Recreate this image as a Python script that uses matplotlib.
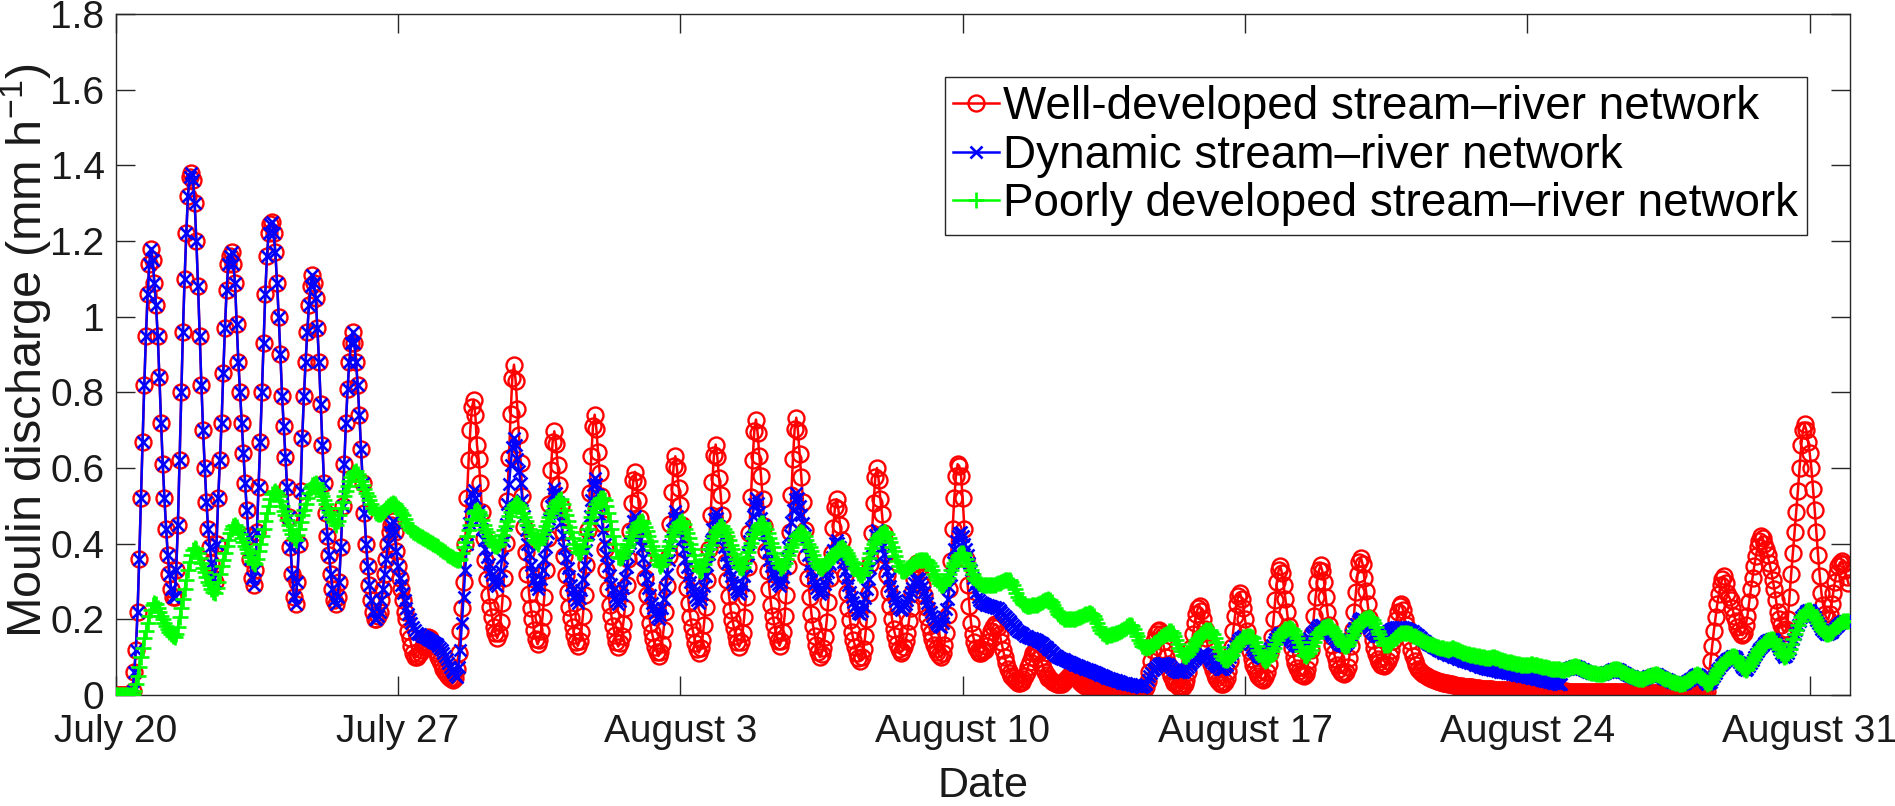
import numpy as np
import matplotlib
matplotlib.use("Agg")
import matplotlib.pyplot as plt

plt.rcParams['font.family'] = ['Liberation Sans', 'DejaVu Sans']
plt.rcParams['mathtext.fontset'] = 'custom'
plt.rcParams['mathtext.rm'] = 'Liberation Sans'
plt.rcParams['mathtext.it'] = 'Liberation Sans:italic'

# ---- axis labels / ticks ----
date_labels = ['July 20', 'July 27', 'August 3', 'August 10', 'August 17', 'August 24', 'August 31']
date_days = [0, 7, 14, 21, 28, 35, 42]
y_ticks = [0, 0.2, 0.4, 0.6, 0.8, 1.0, 1.2, 1.4, 1.6, 1.8]
y_tick_labels = ['0', '0.2', '0.4', '0.6', '0.8', '1', '1.2', '1.4', '1.6', '1.8']
series_names = ['Well-developed stream\u2013river network',
                'Dynamic stream\u2013river network',
                'Poorly developed stream\u2013river network']

# ---- data: hourly values (00h ... 23h), one row per day, starting July 20 ----
well_developed = [
    0, 0, 0, 0, 0, 0, 0, 0, 0, 0, 0.01, 0.06, 0.12, 0.22, 0.36, 0.52, 0.67, 0.82, 0.95, 1.06, 1.14, 1.18, 1.15, 1.09,
    1.03, 0.95, 0.84, 0.72, 0.61, 0.52, 0.44, 0.37, 0.32, 0.28, 0.26, 0.26, 0.33, 0.45, 0.62, 0.8, 0.96, 1.1, 1.22, 1.32, 1.37, 1.38, 1.36, 1.3,
    1.2, 1.08, 0.95, 0.82, 0.7, 0.6, 0.51, 0.44, 0.39, 0.35, 0.31, 0.3, 0.4, 0.52, 0.62, 0.72, 0.85, 0.97, 1.07, 1.14, 1.16, 1.17, 1.14, 1.09,
    0.98, 0.88, 0.8, 0.72, 0.64, 0.56, 0.49, 0.42, 0.36, 0.31, 0.29, 0.33, 0.43, 0.55, 0.67, 0.8, 0.93, 1.06, 1.16, 1.22, 1.245, 1.25, 1.22, 1.17,
    1.09, 1.0, 0.9, 0.79, 0.71, 0.63, 0.55, 0.47, 0.39, 0.32, 0.26, 0.24, 0.3, 0.4, 0.54, 0.68, 0.79, 0.88, 0.96, 1.03, 1.08, 1.11, 1.09, 1.05,
    0.97, 0.88, 0.77, 0.66, 0.56, 0.48, 0.42, 0.37, 0.32, 0.28, 0.25, 0.24, 0.26, 0.3, 0.39, 0.5, 0.61, 0.72, 0.81, 0.88, 0.93, 0.96, 0.93, 0.88,
    0.82, 0.74, 0.65, 0.56, 0.48, 0.4, 0.34, 0.29, 0.25, 0.22, 0.2, 0.2, 0.21, 0.22, 0.25, 0.28, 0.32, 0.36, 0.4, 0.43, 0.45, 0.46, 0.43, 0.38,
    0.34, 0.31, 0.28, 0.25, 0.22, 0.2, 0.17, 0.15, 0.13, 0.11, 0.1, 0.1, 0.105, 0.11, 0.12, 0.13, 0.14, 0.15, 0.152, 0.15, 0.14, 0.13, 0.12, 0.11,
    0.1, 0.09, 0.08, 0.07, 0.062, 0.055, 0.05, 0.045, 0.042, 0.04, 0.045, 0.07, 0.11, 0.17, 0.23, 0.3, 0.4, 0.52, 0.62, 0.7, 0.76, 0.78, 0.74, 0.66,
    0.623, 0.56, 0.484, 0.415, 0.358, 0.307, 0.263, 0.232, 0.207, 0.18, 0.163, 0.15, 0.164, 0.193, 0.244, 0.309, 0.403, 0.512, 0.627, 0.743, 0.837, 0.873, 0.83, 0.757,
    0.688, 0.614, 0.526, 0.444, 0.378, 0.319, 0.267, 0.23, 0.201, 0.171, 0.149, 0.134, 0.145, 0.168, 0.207, 0.258, 0.331, 0.416, 0.506, 0.596, 0.669, 0.697, 0.663, 0.607,
    0.555, 0.499, 0.43, 0.368, 0.317, 0.272, 0.232, 0.204, 0.181, 0.158, 0.141, 0.13, 0.142, 0.167, 0.209, 0.264, 0.344, 0.436, 0.533, 0.631, 0.71, 0.741, 0.704, 0.643,
    0.588, 0.526, 0.453, 0.385, 0.33, 0.281, 0.238, 0.208, 0.183, 0.159, 0.14, 0.128, 0.137, 0.156, 0.188, 0.23, 0.29, 0.359, 0.433, 0.507, 0.567, 0.59, 0.562, 0.516,
    0.468, 0.42, 0.361, 0.308, 0.264, 0.225, 0.191, 0.166, 0.147, 0.127, 0.113, 0.103, 0.114, 0.135, 0.172, 0.219, 0.288, 0.367, 0.451, 0.536, 0.605, 0.631, 0.599, 0.547,
    0.501, 0.449, 0.387, 0.33, 0.283, 0.242, 0.205, 0.179, 0.159, 0.138, 0.122, 0.112, 0.123, 0.145, 0.184, 0.233, 0.305, 0.387, 0.475, 0.563, 0.635, 0.662, 0.629, 0.574,
    0.529, 0.475, 0.411, 0.352, 0.304, 0.262, 0.224, 0.197, 0.176, 0.155, 0.139, 0.128, 0.14, 0.164, 0.206, 0.26, 0.338, 0.428, 0.524, 0.62, 0.698, 0.728, 0.692, 0.632,
    0.579, 0.519, 0.447, 0.381, 0.327, 0.28, 0.238, 0.208, 0.184, 0.16, 0.142, 0.13, 0.142, 0.166, 0.208, 0.263, 0.341, 0.432, 0.528, 0.624, 0.703, 0.733, 0.697, 0.637,
    0.575, 0.511, 0.435, 0.366, 0.309, 0.258, 0.214, 0.182, 0.157, 0.132, 0.113, 0.1, 0.108, 0.125, 0.154, 0.192, 0.246, 0.309, 0.375, 0.442, 0.496, 0.517, 0.492, 0.45,
    0.41, 0.368, 0.316, 0.269, 0.231, 0.197, 0.167, 0.146, 0.128, 0.111, 0.099, 0.09, 0.1, 0.121, 0.156, 0.202, 0.269, 0.345, 0.427, 0.508, 0.575, 0.6, 0.569, 0.518,
    0.478, 0.429, 0.371, 0.317, 0.273, 0.234, 0.2, 0.175, 0.156, 0.136, 0.122, 0.112, 0.117, 0.126, 0.143, 0.164, 0.195, 0.231, 0.269, 0.307, 0.338, 0.35, 0.336, 0.312,
    0.29, 0.263, 0.232, 0.205, 0.182, 0.163, 0.147, 0.133, 0.122, 0.113, 0.105, 0.1, 0.11, 0.131, 0.165, 0.212, 0.28, 0.355, 0.44, 0.52, 0.58, 0.61, 0.605, 0.58,
    0.52, 0.44, 0.36, 0.29, 0.235, 0.19, 0.16, 0.14, 0.125, 0.115, 0.112, 0.112, 0.115, 0.12, 0.13, 0.14, 0.155, 0.17, 0.18, 0.187, 0.186, 0.18, 0.162, 0.14,
    0.12, 0.1, 0.084, 0.07, 0.059, 0.05, 0.044, 0.04, 0.036, 0.033, 0.033, 0.035, 0.041, 0.05, 0.062, 0.075, 0.088, 0.1, 0.11, 0.116, 0.115, 0.11, 0.098, 0.085,
    0.072, 0.06, 0.052, 0.045, 0.041, 0.037, 0.034, 0.032, 0.03, 0.028, 0.028, 0.03, 0.035, 0.04, 0.045, 0.05, 0.053, 0.055, 0.053, 0.05, 0.045, 0.04, 0.035, 0.03,
    0.027, 0.024, 0.022, 0.02, 0.018, 0.017, 0.016, 0.015, 0.014, 0.013, 0.012, 0.012, 0.011, 0.011, 0.01, 0.01, 0.009, 0.009, 0.008, 0.008, 0.008, 0.008, 0.007, 0.007,
    0.006, 0.006, 0.005, 0.005, 0.005, 0.005, 0.004, 0.004, 0.004, 0.004, 0.005, 0.006, 0.011, 0.02, 0.037, 0.06, 0.09, 0.12, 0.143, 0.16, 0.17, 0.173, 0.16, 0.14,
    0.12, 0.1, 0.081, 0.065, 0.051, 0.04, 0.033, 0.028, 0.024, 0.022, 0.021, 0.022, 0.028, 0.04, 0.062, 0.09, 0.125, 0.16, 0.19, 0.215, 0.23, 0.235, 0.222, 0.2,
    0.175, 0.15, 0.124, 0.1, 0.081, 0.065, 0.054, 0.045, 0.038, 0.033, 0.03, 0.03, 0.035, 0.045, 0.064, 0.09, 0.128, 0.17, 0.208, 0.24, 0.262, 0.27, 0.255, 0.23,
    0.2, 0.17, 0.14, 0.115, 0.096, 0.08, 0.068, 0.058, 0.05, 0.045, 0.041, 0.04, 0.047, 0.06, 0.081, 0.11, 0.152, 0.2, 0.252, 0.3, 0.33, 0.34, 0.322, 0.29,
    0.255, 0.22, 0.183, 0.15, 0.123, 0.1, 0.085, 0.072, 0.063, 0.056, 0.052, 0.05, 0.056, 0.07, 0.092, 0.12, 0.162, 0.21, 0.258, 0.3, 0.33, 0.343, 0.328, 0.3,
    0.26, 0.22, 0.186, 0.155, 0.131, 0.11, 0.094, 0.08, 0.07, 0.062, 0.058, 0.056, 0.062, 0.075, 0.098, 0.13, 0.172, 0.22, 0.272, 0.32, 0.352, 0.363, 0.345, 0.31,
    0.275, 0.24, 0.203, 0.17, 0.145, 0.125, 0.108, 0.095, 0.086, 0.08, 0.078, 0.077, 0.081, 0.09, 0.103, 0.12, 0.143, 0.17, 0.197, 0.22, 0.235, 0.24, 0.225, 0.2,
    0.185, 0.17, 0.143, 0.12, 0.104, 0.09, 0.079, 0.07, 0.064, 0.06, 0.056, 0.052, 0.049, 0.047, 0.045, 0.043, 0.041, 0.04, 0.038, 0.037, 0.035, 0.034, 0.033, 0.032,
    0.031, 0.03, 0.029, 0.028, 0.027, 0.026, 0.025, 0.025, 0.024, 0.023, 0.022, 0.022, 0.021, 0.021, 0.02, 0.02, 0.019, 0.019, 0.018, 0.018, 0.017, 0.017, 0.016, 0.016,
    0.015, 0.015, 0.015, 0.015, 0.014, 0.014, 0.014, 0.014, 0.013, 0.013, 0.013, 0.013, 0.012, 0.012, 0.012, 0.012, 0.012, 0.012, 0.011, 0.011, 0.011, 0.011, 0.011, 0.011,
    0.01, 0.01, 0.01, 0.01, 0.01, 0.01, 0.01, 0.01, 0.01, 0.01, 0.01, 0.01, 0.01, 0.01, 0.01, 0.01, 0.01, 0.01, 0.01, 0.01, 0.01, 0.01, 0.01, 0.01,
    0.009, 0.009, 0.009, 0.009, 0.009, 0.009, 0.009, 0.009, 0.009, 0.009, 0.009, 0.009, 0.008, 0.008, 0.008, 0.008, 0.008, 0.008, 0.008, 0.008, 0.008, 0.008, 0.008, 0.008,
    0.008, 0.008, 0.008, 0.008, 0.008, 0.008, 0.008, 0.008, 0.008, 0.008, 0.007, 0.007, 0.007, 0.007, 0.007, 0.007, 0.007, 0.007, 0.007, 0.007, 0.006, 0.006, 0.006, 0.006,
    0.006, 0.006, 0.006, 0.006, 0.006, 0.006, 0.006, 0.006, 0.006, 0.006, 0.005, 0.005, 0.005, 0.005, 0.005, 0.005, 0.005, 0.005, 0.005, 0.005, 0.005, 0.005, 0.005, 0.005,
    0.005, 0.005, 0.005, 0.005, 0.005, 0.005, 0.005, 0.005, 0.005, 0.005, 0.006, 0.01, 0.04, 0.09, 0.13, 0.17, 0.205, 0.24, 0.268, 0.29, 0.307, 0.314, 0.295, 0.27,
    0.26, 0.25, 0.23, 0.21, 0.195, 0.18, 0.168, 0.16, 0.158, 0.165, 0.185, 0.21, 0.245, 0.28, 0.31, 0.34, 0.367, 0.39, 0.408, 0.42, 0.415, 0.4, 0.385, 0.37,
    0.35, 0.33, 0.305, 0.28, 0.25, 0.22, 0.2, 0.185, 0.172, 0.165, 0.175, 0.2, 0.26, 0.32, 0.375, 0.43, 0.485, 0.54, 0.6, 0.66, 0.7, 0.715, 0.7, 0.67,
    0.64, 0.6, 0.545, 0.49, 0.43, 0.37, 0.315, 0.27, 0.238, 0.215, 0.203, 0.2, 0.215, 0.24, 0.27, 0.3, 0.323, 0.34, 0.35, 0.354, 0.345, 0.33, 0.313, 0.296,
]

# dynamic network: same as well-developed until July 27, own values from July 27 00h to August 24 20h
dynamic_from_jul27 = [
    0.34, 0.31, 0.29, 0.27, 0.25, 0.23, 0.215, 0.2, 0.19, 0.18, 0.172, 0.165, 0.162, 0.16, 0.157, 0.155, 0.152, 0.15, 0.147, 0.145, 0.142, 0.14, 0.137, 0.135,
    0.13, 0.125, 0.118, 0.11, 0.102, 0.095, 0.085, 0.075, 0.067, 0.06, 0.052, 0.048, 0.075, 0.12, 0.19, 0.26, 0.33, 0.4, 0.455, 0.5, 0.53, 0.543, 0.52, 0.48,
    0.487, 0.467, 0.438, 0.41, 0.387, 0.365, 0.347, 0.329, 0.316, 0.303, 0.294, 0.288, 0.304, 0.327, 0.362, 0.406, 0.453, 0.504, 0.558, 0.609, 0.656, 0.68, 0.66, 0.625,
    0.592, 0.56, 0.516, 0.472, 0.436, 0.4, 0.372, 0.344, 0.324, 0.304, 0.29, 0.28, 0.291, 0.307, 0.331, 0.36, 0.392, 0.427, 0.464, 0.499, 0.531, 0.547, 0.534, 0.51,
    0.48, 0.456, 0.423, 0.389, 0.362, 0.335, 0.314, 0.292, 0.277, 0.262, 0.252, 0.244, 0.257, 0.277, 0.307, 0.343, 0.383, 0.426, 0.472, 0.515, 0.554, 0.574, 0.558, 0.528,
    0.501, 0.474, 0.437, 0.4, 0.37, 0.34, 0.317, 0.293, 0.277, 0.26, 0.248, 0.24, 0.249, 0.263, 0.284, 0.31, 0.338, 0.368, 0.401, 0.431, 0.459, 0.473, 0.461, 0.44,
    0.413, 0.391, 0.361, 0.331, 0.306, 0.282, 0.263, 0.244, 0.23, 0.216, 0.207, 0.2, 0.211, 0.229, 0.254, 0.286, 0.32, 0.357, 0.397, 0.435, 0.469, 0.486, 0.472, 0.446,
    0.433, 0.413, 0.387, 0.36, 0.338, 0.317, 0.3, 0.283, 0.271, 0.259, 0.25, 0.244, 0.253, 0.268, 0.289, 0.315, 0.343, 0.374, 0.407, 0.438, 0.466, 0.48, 0.468, 0.447,
    0.433, 0.416, 0.392, 0.369, 0.349, 0.33, 0.315, 0.3, 0.29, 0.279, 0.271, 0.266, 0.276, 0.291, 0.314, 0.342, 0.373, 0.406, 0.441, 0.474, 0.505, 0.52, 0.507, 0.484,
    0.469, 0.45, 0.425, 0.399, 0.378, 0.358, 0.341, 0.325, 0.314, 0.302, 0.294, 0.288, 0.298, 0.313, 0.335, 0.362, 0.391, 0.423, 0.458, 0.49, 0.519, 0.534, 0.522, 0.5,
    0.475, 0.454, 0.424, 0.395, 0.371, 0.346, 0.328, 0.309, 0.295, 0.282, 0.273, 0.266, 0.272, 0.28, 0.293, 0.309, 0.326, 0.345, 0.365, 0.384, 0.401, 0.41, 0.403, 0.39,
    0.367, 0.351, 0.329, 0.308, 0.29, 0.272, 0.258, 0.245, 0.235, 0.225, 0.218, 0.213, 0.222, 0.235, 0.256, 0.28, 0.307, 0.336, 0.368, 0.397, 0.424, 0.437, 0.426, 0.406,
    0.39, 0.373, 0.35, 0.327, 0.308, 0.289, 0.274, 0.259, 0.248, 0.238, 0.23, 0.225, 0.228, 0.234, 0.241, 0.251, 0.261, 0.272, 0.284, 0.295, 0.305, 0.31, 0.306, 0.298,
    0.285, 0.271, 0.256, 0.242, 0.23, 0.219, 0.21, 0.201, 0.194, 0.188, 0.183, 0.18, 0.19, 0.205, 0.228, 0.255, 0.286, 0.318, 0.352, 0.385, 0.406, 0.42, 0.428, 0.43,
    0.42, 0.4, 0.385, 0.37, 0.35, 0.33, 0.31, 0.29, 0.273, 0.26, 0.251, 0.245, 0.242, 0.24, 0.238, 0.237, 0.236, 0.235, 0.233, 0.232, 0.231, 0.23, 0.225, 0.22,
    0.215, 0.21, 0.205, 0.2, 0.195, 0.19, 0.185, 0.18, 0.175, 0.17, 0.166, 0.163, 0.16, 0.157, 0.155, 0.153, 0.151, 0.15, 0.148, 0.147, 0.145, 0.143, 0.14, 0.138,
    0.134, 0.13, 0.126, 0.122, 0.118, 0.114, 0.11, 0.107, 0.103, 0.1, 0.098, 0.096, 0.094, 0.092, 0.09, 0.088, 0.086, 0.084, 0.082, 0.08, 0.078, 0.076, 0.074, 0.073,
    0.071, 0.07, 0.068, 0.067, 0.065, 0.063, 0.061, 0.06, 0.058, 0.056, 0.054, 0.052, 0.05, 0.048, 0.046, 0.045, 0.043, 0.042, 0.04, 0.039, 0.037, 0.036, 0.034, 0.033,
    0.032, 0.031, 0.03, 0.029, 0.028, 0.027, 0.026, 0.025, 0.024, 0.023, 0.022, 0.021, 0.024, 0.03, 0.04, 0.05, 0.058, 0.065, 0.07, 0.075, 0.079, 0.082, 0.084, 0.085,
    0.085, 0.083, 0.081, 0.078, 0.074, 0.07, 0.067, 0.064, 0.062, 0.06, 0.06, 0.062, 0.065, 0.068, 0.073, 0.078, 0.084, 0.09, 0.095, 0.1, 0.104, 0.107, 0.109, 0.11,
    0.108, 0.105, 0.1, 0.095, 0.09, 0.085, 0.081, 0.077, 0.073, 0.07, 0.068, 0.068, 0.073, 0.08, 0.09, 0.1, 0.11, 0.12, 0.13, 0.138, 0.145, 0.15, 0.153, 0.155,
    0.154, 0.15, 0.143, 0.135, 0.127, 0.12, 0.114, 0.108, 0.104, 0.1, 0.099, 0.1, 0.104, 0.11, 0.118, 0.125, 0.133, 0.14, 0.148, 0.155, 0.16, 0.164, 0.163, 0.16,
    0.158, 0.155, 0.15, 0.145, 0.14, 0.136, 0.133, 0.13, 0.129, 0.13, 0.132, 0.135, 0.14, 0.145, 0.151, 0.158, 0.164, 0.17, 0.175, 0.18, 0.184, 0.186, 0.184, 0.18,
    0.175, 0.17, 0.165, 0.16, 0.155, 0.15, 0.145, 0.14, 0.136, 0.133, 0.131, 0.13, 0.134, 0.14, 0.149, 0.158, 0.168, 0.178, 0.187, 0.195, 0.201, 0.204, 0.2, 0.195,
    0.188, 0.182, 0.176, 0.17, 0.165, 0.16, 0.157, 0.156, 0.157, 0.158, 0.16, 0.162, 0.165, 0.168, 0.171, 0.174, 0.176, 0.178, 0.179, 0.18, 0.18, 0.18, 0.179, 0.177,
    0.176, 0.174, 0.172, 0.17, 0.168, 0.165, 0.162, 0.158, 0.154, 0.15, 0.146, 0.142, 0.138, 0.135, 0.132, 0.13, 0.127, 0.125, 0.122, 0.12, 0.117, 0.115, 0.112, 0.11,
    0.108, 0.106, 0.105, 0.103, 0.101, 0.1, 0.098, 0.096, 0.095, 0.093, 0.091, 0.09, 0.088, 0.087, 0.085, 0.084, 0.082, 0.08, 0.079, 0.077, 0.075, 0.074, 0.072, 0.071,
    0.07, 0.069, 0.068, 0.067, 0.066, 0.065, 0.064, 0.063, 0.062, 0.061, 0.06, 0.06, 0.059, 0.058, 0.057, 0.056, 0.055, 0.054, 0.053, 0.052, 0.051, 0.05, 0.049, 0.049,
    0.048, 0.047, 0.046, 0.045, 0.044, 0.043, 0.042, 0.041, 0.04, 0.039, 0.038, 0.037, 0.036, 0.035, 0.034, 0.033, 0.032, 0.031, 0.03, 0.029, 0.028,
]

poorly_developed = [
    0, 0, 0, 0, 0, 0, 0, 0, 0, 0, 0.003, 0.01, 0.028, 0.05, 0.075, 0.1, 0.125, 0.15, 0.17, 0.19, 0.21, 0.225, 0.238, 0.244,
    0.24, 0.23, 0.22, 0.21, 0.2, 0.19, 0.182, 0.175, 0.167, 0.16, 0.155, 0.152, 0.162, 0.18, 0.205, 0.23, 0.255, 0.28, 0.305, 0.33, 0.352, 0.37, 0.383, 0.389,
    0.385, 0.375, 0.362, 0.35, 0.337, 0.325, 0.312, 0.3, 0.29, 0.28, 0.273, 0.27, 0.283, 0.3, 0.32, 0.34, 0.358, 0.375, 0.393, 0.41, 0.427, 0.44, 0.447, 0.45,
    0.443, 0.435, 0.425, 0.415, 0.405, 0.395, 0.385, 0.375, 0.365, 0.355, 0.349, 0.345, 0.36, 0.38, 0.4, 0.42, 0.44, 0.46, 0.48, 0.5, 0.517, 0.53, 0.536, 0.539,
    0.533, 0.525, 0.512, 0.5, 0.487, 0.475, 0.462, 0.45, 0.437, 0.425, 0.416, 0.411, 0.423, 0.44, 0.458, 0.475, 0.49, 0.505, 0.52, 0.535, 0.547, 0.556, 0.559, 0.56,
    0.553, 0.545, 0.535, 0.525, 0.515, 0.505, 0.495, 0.485, 0.475, 0.465, 0.456, 0.45, 0.46, 0.475, 0.493, 0.51, 0.525, 0.54, 0.553, 0.565, 0.576, 0.585, 0.59, 0.591,
    0.583, 0.575, 0.565, 0.555, 0.545, 0.535, 0.525, 0.515, 0.505, 0.495, 0.487, 0.48, 0.478, 0.478, 0.481, 0.485, 0.49, 0.495, 0.5, 0.503, 0.506, 0.508, 0.505, 0.5,
    0.495, 0.49, 0.482, 0.475, 0.465, 0.455, 0.447, 0.44, 0.435, 0.43, 0.427, 0.425, 0.422, 0.42, 0.417, 0.415, 0.412, 0.41, 0.407, 0.405, 0.402, 0.4, 0.396, 0.393,
    0.39, 0.386, 0.383, 0.38, 0.377, 0.374, 0.371, 0.368, 0.365, 0.362, 0.359, 0.356, 0.356, 0.36, 0.375, 0.39, 0.405, 0.42, 0.435, 0.45, 0.466, 0.48, 0.487, 0.49,
    0.485, 0.475, 0.462, 0.45, 0.44, 0.43, 0.42, 0.41, 0.402, 0.397, 0.394, 0.393, 0.4, 0.41, 0.422, 0.435, 0.447, 0.46, 0.472, 0.485, 0.495, 0.503, 0.507, 0.508,
    0.503, 0.495, 0.482, 0.47, 0.46, 0.45, 0.44, 0.43, 0.42, 0.41, 0.404, 0.4, 0.406, 0.415, 0.425, 0.435, 0.447, 0.46, 0.47, 0.48, 0.49, 0.5, 0.507, 0.512,
    0.516, 0.517, 0.505, 0.49, 0.475, 0.46, 0.445, 0.43, 0.415, 0.4, 0.388, 0.378, 0.376, 0.38, 0.395, 0.41, 0.425, 0.44, 0.455, 0.47, 0.483, 0.495, 0.505, 0.512,
    0.517, 0.52, 0.52, 0.515, 0.5, 0.48, 0.46, 0.44, 0.42, 0.4, 0.382, 0.365, 0.362, 0.365, 0.372, 0.38, 0.39, 0.4, 0.41, 0.42, 0.43, 0.44, 0.448, 0.455,
    0.458, 0.46, 0.455, 0.445, 0.433, 0.42, 0.407, 0.395, 0.382, 0.37, 0.357, 0.345, 0.342, 0.345, 0.357, 0.37, 0.382, 0.395, 0.407, 0.42, 0.43, 0.44, 0.448, 0.455,
    0.458, 0.46, 0.452, 0.44, 0.428, 0.415, 0.4, 0.385, 0.37, 0.355, 0.342, 0.33, 0.328, 0.332, 0.345, 0.36, 0.372, 0.385, 0.397, 0.41, 0.42, 0.43, 0.437, 0.443,
    0.446, 0.446, 0.438, 0.43, 0.42, 0.41, 0.397, 0.385, 0.372, 0.36, 0.348, 0.338, 0.335, 0.338, 0.35, 0.365, 0.377, 0.39, 0.402, 0.415, 0.425, 0.435, 0.443, 0.45,
    0.454, 0.455, 0.448, 0.44, 0.428, 0.415, 0.403, 0.39, 0.375, 0.36, 0.348, 0.338, 0.336, 0.34, 0.35, 0.36, 0.37, 0.38, 0.39, 0.4, 0.41, 0.42, 0.426, 0.43,
    0.43, 0.428, 0.42, 0.41, 0.4, 0.39, 0.38, 0.37, 0.36, 0.35, 0.342, 0.336, 0.336, 0.34, 0.345, 0.35, 0.355, 0.36, 0.365, 0.37, 0.375, 0.38, 0.385, 0.388,
    0.39, 0.388, 0.382, 0.375, 0.367, 0.36, 0.352, 0.345, 0.337, 0.33, 0.322, 0.316, 0.318, 0.325, 0.337, 0.35, 0.362, 0.375, 0.388, 0.4, 0.408, 0.415, 0.42, 0.425,
    0.428, 0.43, 0.43, 0.425, 0.415, 0.405, 0.392, 0.38, 0.367, 0.355, 0.342, 0.33, 0.327, 0.328, 0.331, 0.335, 0.338, 0.342, 0.346, 0.35, 0.353, 0.355, 0.357, 0.358,
    0.358, 0.358, 0.357, 0.355, 0.348, 0.34, 0.33, 0.32, 0.312, 0.305, 0.297, 0.29, 0.291, 0.295, 0.302, 0.31, 0.32, 0.33, 0.34, 0.35, 0.358, 0.365, 0.371, 0.376,
    0.375, 0.37, 0.36, 0.35, 0.34, 0.33, 0.32, 0.31, 0.303, 0.298, 0.295, 0.293, 0.291, 0.29, 0.29, 0.29, 0.29, 0.29, 0.291, 0.292, 0.293, 0.295, 0.297, 0.3,
    0.302, 0.303, 0.305, 0.305, 0.303, 0.3, 0.29, 0.28, 0.27, 0.26, 0.252, 0.245, 0.24, 0.237, 0.236, 0.236, 0.236, 0.237, 0.237, 0.238, 0.239, 0.24, 0.242, 0.245,
    0.248, 0.25, 0.252, 0.253, 0.25, 0.245, 0.238, 0.23, 0.222, 0.215, 0.21, 0.205, 0.202, 0.2, 0.2, 0.2, 0.2, 0.2, 0.201, 0.202, 0.203, 0.205, 0.207, 0.21,
    0.211, 0.213, 0.215, 0.217, 0.217, 0.215, 0.208, 0.2, 0.19, 0.18, 0.172, 0.165, 0.16, 0.157, 0.157, 0.158, 0.159, 0.16, 0.161, 0.163, 0.165, 0.167, 0.17, 0.172,
    0.175, 0.178, 0.182, 0.185, 0.185, 0.183, 0.175, 0.165, 0.155, 0.145, 0.137, 0.13, 0.127, 0.125, 0.126, 0.128, 0.13, 0.133, 0.137, 0.14, 0.144, 0.148, 0.152, 0.155,
    0.158, 0.162, 0.165, 0.168, 0.168, 0.165, 0.155, 0.145, 0.135, 0.125, 0.115, 0.107, 0.104, 0.104, 0.109, 0.115, 0.122, 0.13, 0.137, 0.145, 0.151, 0.157, 0.162, 0.167,
    0.17, 0.172, 0.173, 0.172, 0.167, 0.16, 0.15, 0.14, 0.127, 0.115, 0.104, 0.095, 0.092, 0.092, 0.095, 0.1, 0.107, 0.115, 0.122, 0.13, 0.137, 0.143, 0.148, 0.152,
    0.154, 0.155, 0.156, 0.156, 0.154, 0.15, 0.14, 0.13, 0.12, 0.11, 0.101, 0.094, 0.091, 0.092, 0.098, 0.105, 0.115, 0.125, 0.135, 0.145, 0.153, 0.16, 0.167, 0.172,
    0.174, 0.175, 0.177, 0.178, 0.175, 0.17, 0.16, 0.15, 0.139, 0.128, 0.117, 0.107, 0.104, 0.105, 0.112, 0.12, 0.13, 0.14, 0.15, 0.16, 0.166, 0.172, 0.177, 0.18,
    0.181, 0.182, 0.182, 0.18, 0.175, 0.17, 0.162, 0.155, 0.147, 0.14, 0.134, 0.13, 0.13, 0.133, 0.141, 0.15, 0.159, 0.168, 0.176, 0.183, 0.19, 0.195, 0.199, 0.202,
    0.203, 0.204, 0.205, 0.204, 0.198, 0.19, 0.18, 0.17, 0.16, 0.15, 0.141, 0.133, 0.131, 0.132, 0.136, 0.14, 0.145, 0.15, 0.154, 0.158, 0.161, 0.163, 0.164, 0.165,
    0.165, 0.164, 0.162, 0.16, 0.157, 0.155, 0.152, 0.15, 0.147, 0.145, 0.142, 0.14, 0.138, 0.136, 0.134, 0.133, 0.131, 0.13, 0.128, 0.127, 0.125, 0.124, 0.123, 0.122,
    0.121, 0.12, 0.121, 0.123, 0.123, 0.122, 0.12, 0.118, 0.116, 0.114, 0.112, 0.11, 0.109, 0.108, 0.107, 0.106, 0.105, 0.104, 0.103, 0.102, 0.101, 0.1, 0.1, 0.099,
    0.098, 0.098, 0.099, 0.1, 0.1, 0.099, 0.097, 0.095, 0.093, 0.092, 0.09, 0.089, 0.088, 0.087, 0.086, 0.085, 0.084, 0.083, 0.082, 0.081, 0.08, 0.079, 0.078, 0.078,
    0.079, 0.08, 0.081, 0.081, 0.08, 0.079, 0.078, 0.077, 0.076, 0.075, 0.074, 0.073, 0.072, 0.071, 0.07, 0.07, 0.069, 0.069, 0.068, 0.068, 0.067, 0.067, 0.067, 0.068,
    0.07, 0.071, 0.073, 0.075, 0.076, 0.077, 0.075, 0.073, 0.07, 0.068, 0.066, 0.064, 0.062, 0.061, 0.059, 0.058, 0.057, 0.056, 0.055, 0.055, 0.055, 0.056, 0.058, 0.06,
    0.062, 0.064, 0.066, 0.068, 0.069, 0.07, 0.068, 0.065, 0.062, 0.06, 0.057, 0.055, 0.053, 0.051, 0.049, 0.047, 0.045, 0.044, 0.043, 0.042, 0.042, 0.043, 0.045, 0.047,
    0.049, 0.051, 0.053, 0.054, 0.055, 0.055, 0.053, 0.05, 0.047, 0.045, 0.043, 0.041, 0.039, 0.037, 0.035, 0.034, 0.032, 0.031, 0.03, 0.03, 0.03, 0.031, 0.033, 0.036,
    0.039, 0.042, 0.046, 0.05, 0.053, 0.055, 0.053, 0.05, 0.045, 0.04, 0.035, 0.03, 0.031, 0.035, 0.042, 0.05, 0.058, 0.065, 0.072, 0.078, 0.083, 0.088, 0.092, 0.095,
    0.098, 0.1, 0.102, 0.103, 0.1, 0.095, 0.088, 0.08, 0.073, 0.068, 0.067, 0.07, 0.077, 0.085, 0.092, 0.1, 0.108, 0.115, 0.122, 0.128, 0.133, 0.138, 0.142, 0.145,
    0.146, 0.147, 0.147, 0.145, 0.138, 0.13, 0.121, 0.112, 0.105, 0.1, 0.103, 0.11, 0.122, 0.135, 0.147, 0.16, 0.172, 0.185, 0.195, 0.205, 0.212, 0.218, 0.222, 0.225,
    0.224, 0.22, 0.213, 0.205, 0.197, 0.19, 0.182, 0.175, 0.169, 0.163, 0.161, 0.16, 0.163, 0.167, 0.172, 0.177, 0.182, 0.186, 0.19, 0.193, 0.195, 0.196, 0.196, 0.195,
]

# dynamic series: shared first week, own values, then it runs hidden under the
# poorly-developed curve (a gap marks where its visible tail stops)
n_shared = 7 * 24
n_dyn = n_shared + len(dynamic_from_jul27)
dynamic = well_developed[:n_shared] + dynamic_from_jul27 + [np.nan] + poorly_developed[n_dyn + 1:]


def hours_to_days(values):
    return np.arange(len(values)) / 24.0


# ---- figure ----
W, H, DPI = 1895, 806, 100
fig = plt.figure(figsize=(W / DPI, H / DPI), dpi=DPI)
ax = fig.add_axes([115.7 / W, 1 - 695 / H, (1850 - 115.7) / W, (695 - 14) / H])

ax.plot(hours_to_days(well_developed), well_developed, color='red', lw=1.8, marker='o', ms=11.5,
        mfc='none', mec='red', mew=1.7, label=series_names[0], zorder=2)
ax.plot(hours_to_days(dynamic), dynamic, color='blue', lw=1.8, marker='x', ms=8.5,
        mew=1.9, label=series_names[1], zorder=3)
ax.plot(hours_to_days(poorly_developed), poorly_developed, color=(0, 1, 0), lw=1.8, marker='+', ms=11.5,
        mew=1.9, label=series_names[2], zorder=4)

ax.set_xlim(0, 43)
ax.set_ylim(0, 1.8)
ax.set_xticks(date_days)
ax.set_xticklabels(date_labels)
ax.set_yticks(y_ticks)
ax.set_yticklabels(y_tick_labels)

dark = '#262626'
for s in ax.spines.values():
    s.set_color(dark)
    s.set_linewidth(1.0)
ax.tick_params(direction='in', length=14, width=1.0, colors=dark, labelsize=28,
               top=True, right=True)
ax.tick_params(axis='x', pad=14)
ax.tick_params(axis='y', pad=8)
for lab in ax.get_xticklabels() + ax.get_yticklabels():
    lab.set_color('#1a1a1a')

ax.set_xlabel('Date', fontsize=31, color='#1a1a1a')
ax.xaxis.label.set_va('baseline')
ax.xaxis.set_label_coords(0.5, (695 - 797) / 681)
ax.set_ylabel('Moulin discharge (mm h$^{-1}$)', fontsize=35, color='#1a1a1a')
ax.yaxis.label.set_va('center')
ax.yaxis.set_label_coords((26 - 115.7) / 1734.3, 0.505)

leg = ax.legend(loc='upper right', bbox_to_anchor=(0.975, 0.9075), fontsize=33,
                frameon=True, fancybox=False, edgecolor=dark, framealpha=1,
                handlelength=1.0, handletextpad=0.1, borderpad=0.18, labelspacing=0.1,
                borderaxespad=0)
leg.get_frame().set_linewidth(1.0)

fig.savefig('out.png', dpi=DPI)
